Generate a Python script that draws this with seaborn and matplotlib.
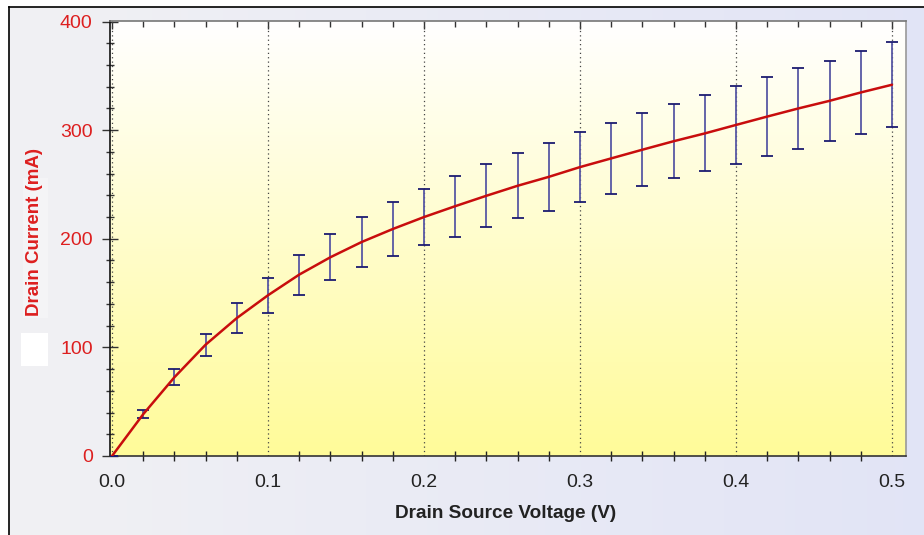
import numpy as np
import pandas as pd
import matplotlib
matplotlib.use("Agg")
import matplotlib.pyplot as plt
from matplotlib.ticker import MultipleLocator
import seaborn as sns

# ---- data ----
voltage = [0.00, 0.02, 0.04, 0.06, 0.08, 0.10, 0.12, 0.14, 0.16, 0.18, 0.20, 0.22, 0.24,
           0.26, 0.28, 0.30, 0.32, 0.34, 0.36, 0.38, 0.40, 0.42, 0.44, 0.46, 0.48, 0.50]
current = [0, 38.5, 72.5, 102.5, 127, 148, 167, 183, 197, 209, 220, 230, 239.6,
           248.8, 257, 266, 274, 282, 289.8, 297, 304.8, 312.5, 320, 327, 334.7, 341.8]
error = [0, 3.7, 7.2, 10, 13.7, 16, 18.5, 21, 23.3, 24.8, 26, 28, 29,
         30, 31, 32, 32.7, 33.5, 34, 35, 36, 36, 37, 37, 38.5, 39]
x_ticks = [0.0, 0.1, 0.2, 0.3, 0.4, 0.5]
x_tick_labels = ["0.0", "0.1", "0.2", "0.3", "0.4", "0.5"]
y_ticks = [0, 100, 200, 300, 400]
y_tick_labels = ["0", "100", "200", "300", "400"]

df = pd.DataFrame({"Voltage": voltage, "Current": current, "Error": error})

sns.set_theme(style="white")
plt.rcParams["font.family"] = ["Liberation Sans", "DejaVu Sans"]

W, H = 924, 535
fig = plt.figure(figsize=(W / 100, H / 100), dpi=100)
fig.patch.set_facecolor("white")

# figure background panel with gradient (lavender)
bg = fig.add_axes([9 / W, 0, 1 - 9 / W, 1 - 7 / H], zorder=-10)
gx = np.linspace(0, 1, 256)
c1 = np.array([0.945, 0.945, 0.955])
c2 = np.array([0.885, 0.895, 0.965])
grad = c1[None, :] * (1 - gx[:, None]) + c2[None, :] * gx[:, None]
bg.imshow(grad[None, :, :], aspect="auto", extent=[0, 1, 0, 1])
bg.set_xlim(0, 1); bg.set_ylim(0, 1)
bg.set_xticks([]); bg.set_yticks([])
for s in ["right", "bottom"]:
    bg.spines[s].set_visible(False)
for s in ["left", "top"]:
    bg.spines[s].set_color("black")
    bg.spines[s].set_linewidth(1.2)

# white patches at left
fig.patches.append(plt.Rectangle((21 / W, 1 - 366 / H), 27 / W, 33 / H,
                                 transform=fig.transFigure, facecolor="white",
                                 edgecolor="none", zorder=-5))
fig.patches.append(plt.Rectangle((23 / W, 1 - 318 / H), 25 / W, 140 / H,
                                 transform=fig.transFigure, facecolor="white",
                                 edgecolor="none", alpha=0.3, zorder=-5))

# plot-area gradient background
left, right, top, bottom = 110, 906, 21, 456
rect = [left / W, 1 - bottom / H, (right - left) / W, (bottom - top) / H]
pbg = fig.add_axes(rect, zorder=-1)
gy = np.linspace(0, 1, 256)
top_c = np.array([1.0, 1.0, 1.0])
bot_c = np.array([1.0, 0.985, 0.60])
g2 = top_c[None, :] * (1 - gy[:, None]) + bot_c[None, :] * gy[:, None]
pbg.imshow(g2[:, None, :], aspect="auto", extent=[0, 1, 0, 1])
pbg.axis("off")

ax = fig.add_axes(rect)
ax.patch.set_alpha(0)

_, caps, bars = ax.errorbar(df["Voltage"], df["Current"], yerr=df["Error"], fmt="none",
                            ecolor="#5858a4", elinewidth=1.3, capsize=4, capthick=1.3,
                            zorder=3)
for c in caps:
    c.set_color("#1c1c70")
    c.set_markeredgecolor("#1c1c70")
sns.lineplot(data=df, x="Voltage", y="Current", ax=ax, color="#c80d0d",
             linewidth=1.8, zorder=4)

ax.set_xlim(-0.0013, 0.509)
ax.set_ylim(0, 400.5)

ax.set_xticks(x_ticks)
ax.set_xticklabels(x_tick_labels, fontsize=14, color="#222222")
ax.set_yticks(y_ticks)
ax.set_yticklabels(y_tick_labels, fontsize=14, color="#dd1f1f")
ax.xaxis.set_minor_locator(MultipleLocator(0.02))
ax.yaxis.set_minor_locator(MultipleLocator(20))

ax.tick_params(axis="x", which="major", direction="inout", length=12, width=1,
               color="#222222", top=False, pad=7)
ax.tick_params(axis="x", which="minor", direction="inout", length=7, width=1,
               color="#222222", top=False, bottom=True)
ax.tick_params(axis="y", which="major", direction="inout", length=11, width=1,
               color="#333333", left=True, pad=7)
ax.tick_params(axis="y", which="minor", direction="inout", length=6, width=1,
               color="#333333", left=True)

# inward ticks along the top edge
sec = ax.secondary_xaxis("top")
sec.set_xticks(x_ticks)
sec.xaxis.set_minor_locator(MultipleLocator(0.02))
sec.tick_params(axis="x", which="major", direction="in", length=6, width=1,
                color="#333333", labeltop=False)
sec.tick_params(axis="x", which="minor", direction="in", length=4, width=1,
                color="#333333")
sec.spines["top"].set_visible(False)

ax.grid(False)
for xv in x_ticks:
    ax.axvline(xv, color="#444444", linestyle=(0, (1, 2.5)), linewidth=0.9, zorder=1)

ax.spines["left"].set_color("#111111")
ax.spines["bottom"].set_color("#333333")
ax.spines["top"].set_color("#777777")
ax.spines["right"].set_color("#999999")
for s in ax.spines.values():
    s.set_linewidth(1.2)

ax.set_xlabel("")
ax.set_ylabel("")
fig.text(506 / W, 1 - 513 / H, "Drain Source Voltage (V)", ha="center", va="center",
         fontsize=13.7, fontweight="bold", color="#222222")
fig.text(35 / W, 1 - 232 / H, "Drain Current (mA)", ha="center", va="center",
         rotation=90, fontsize=13.5, fontweight="bold", color="#dd1f1f")

fig.savefig("out.png", dpi=100)
